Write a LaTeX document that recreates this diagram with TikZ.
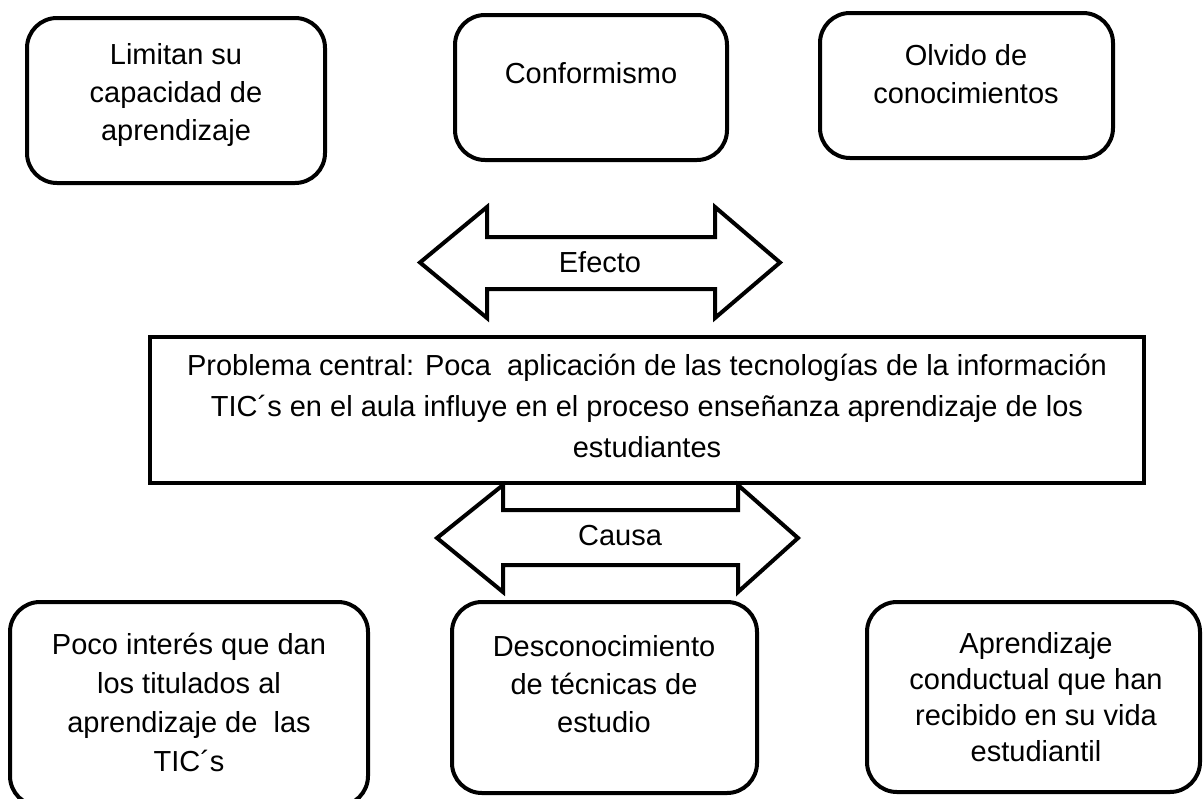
\documentclass[tikz,border=0pt]{standalone}
\usepackage{fontspec}
\setmainfont{Liberation Sans}
\begin{document}
\begin{tikzpicture}[x=1pt,y=-1pt,
  rbox/.style={draw,line width=4pt,rounded corners=30pt,inner sep=0pt},
  cbox/.style={draw,line width=4.5pt,inner sep=0pt},
  arrowshape/.style={draw,line width=4pt,fill=white,line join=miter},
  txt/.style={align=center,inner sep=0pt,font=\fontsize{29}{38}\selectfont},
]
\useasboundingbox (0,0) rectangle (1204,798);
\clip (0,0) rectangle (1204,798);
% top boxes
\node[rbox,minimum width=298pt,minimum height=165pt] (b1) at (176,100.5) {};
\node[txt] (t1) at (176,95) {Limitan su\\capacidad de\\aprendizaje};
\node[rbox,minimum width=272pt,minimum height=145pt] (b2) at (591,87.5) {};
\node[txt] (t2) at (591,73) {Conformismo};
\node[rbox,minimum width=293pt,minimum height=145pt] (b3) at (966.5,85.5) {};
\node[txt] (t3) at (966,74) {Olvido de\\conocimientos};
% efecto arrow
\draw[arrowshape] (420,262.5) -- (487,207) -- (487,237) -- (715,237) -- (715,207) -- (780,262.5) -- (715,318) -- (715,289) -- (487,289) -- (487,318) -- cycle;
\node[txt] (ef) at (600,262) {Efecto};
% central
\node[cbox,minimum width=994pt,minimum height=146pt] (c) at (647,410) {};
\node[txt,font=\fontsize{29}{41}\selectfont] (ct) at (647,406) {Problema central: Poca~ aplicación de las tecnologías de la información\\TIC´s en el aula influye en el proceso enseñanza aprendizaje de los\\estudiantes};
% causa arrow
\draw[arrowshape] (437,538) -- (503,485) -- (503,510) -- (738,510) -- (738,485) -- (798,538) -- (738,592) -- (738,565) -- (503,565) -- (503,592) -- cycle;
\node[txt] (ca) at (620,536) {Causa};
% bottom boxes
\node[rbox,minimum width=358pt,minimum height=204pt] (b4) at (189,704) {};
\node[txt,font=\fontsize{29}{39}\selectfont] (t4) at (189,702) {Poco interés que dan\\los titulados al\\aprendizaje de~ las\\TIC´s};
\node[rbox,minimum width=305pt,minimum height=191pt] (b5) at (604.5,697.5) {};
\node[txt] (t5) at (604,684) {Desconocimiento\\de técnicas de\\estudio};
\node[rbox,minimum width=333pt,minimum height=190pt] (b6) at (1033.5,697) {};
\node[txt,font=\fontsize{29}{36}\selectfont] (t6) at (1036,697) {Aprendizaje\\conductual que han\\recibido en su vida\\estudiantil};
\end{tikzpicture}
\end{document}
